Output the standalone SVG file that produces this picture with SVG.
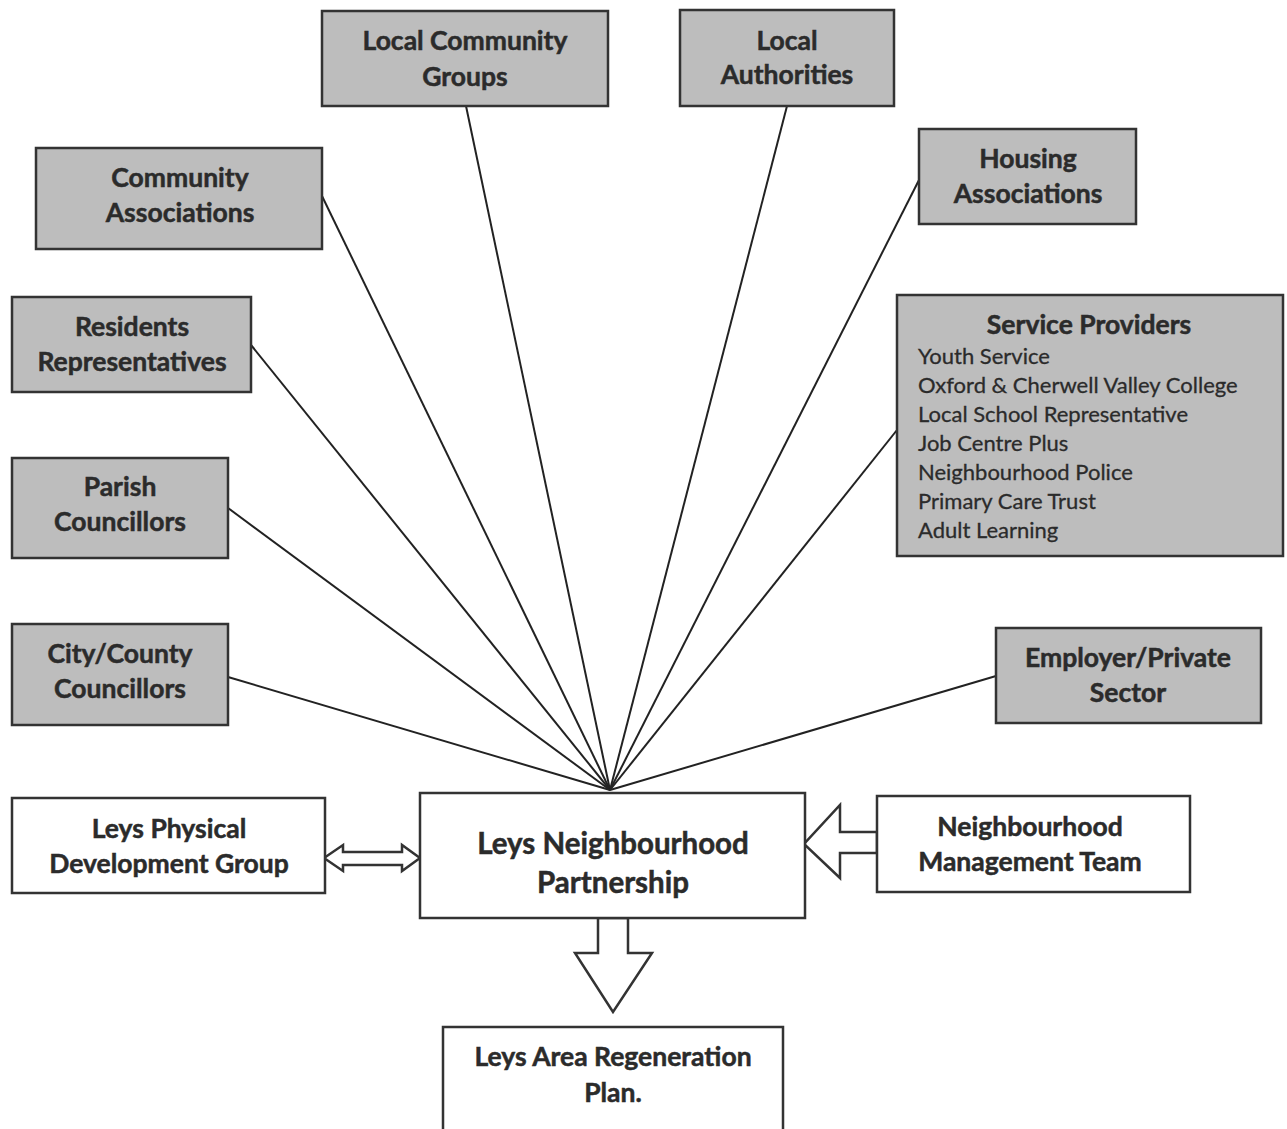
<svg xmlns="http://www.w3.org/2000/svg" width="1287" height="1129" viewBox="0 0 1287 1129">
<style>
.g{fill:#bdbdbd;stroke:#333;stroke-width:2.5}
.w{fill:#fff;stroke:#333;stroke-width:2.5}
.t{font-family:Lato,"Open Sans","Liberation Sans",sans-serif;font-weight:bold;font-size:26.5px;fill:#2b2b2b;text-anchor:middle;stroke:#2b2b2b;stroke-width:0.5}
.big{font-size:29.5px}
.s{font-family:Lato,"Open Sans","Liberation Sans",sans-serif;font-size:22px;fill:#2b2b2b;stroke:#2b2b2b;stroke-width:0.3}
.c{stroke:#222;stroke-width:2;fill:none}
.ba{fill:#fff;stroke:#333;stroke-width:2.5;stroke-linejoin:miter}
</style>
<rect width="1287" height="1129" fill="#fff"/>
<g id="connectors">
<line class="c" x1="466" y1="106" x2="610" y2="790"/>
<line class="c" x1="787" y1="106" x2="610" y2="790"/>
<line class="c" x1="322" y1="196" x2="610" y2="790"/>
<line class="c" x1="919" y1="180" x2="610" y2="790"/>
<line class="c" x1="251" y1="345" x2="610" y2="790"/>
<line class="c" x1="897" y1="430" x2="610" y2="790"/>
<line class="c" x1="228" y1="508" x2="610" y2="790"/>
<line class="c" x1="228" y1="677" x2="610" y2="790"/>
<line class="c" x1="996" y1="676" x2="610" y2="790"/>
<polygon class="ba" points="324,858 343,845 343,852 402,852 402,845 420,858 402,871 402,865 343,865 343,871"/>
<polygon class="ba" points="877,832 840,832 840,805 804,844 840,878 840,853 877,853"/>
<polygon class="ba" points="598,918 598,953 575,953 613,1012 652,953 628,953 628,918"/>
</g>
<g id="local-community-groups"><rect class="g" x="322" y="11" width="286" height="95"/><text class="t" x="465" y="50">Local Community</text><text class="t" x="465" y="86">Groups</text></g>
<g id="local-authorities"><rect class="g" x="680" y="10" width="214" height="96"/><text class="t" x="787" y="50">Local</text><text class="t" x="787" y="84">Authorities</text></g>
<g id="community-associations"><rect class="g" x="36" y="148" width="286" height="101"/><text class="t" x="180" y="187">Community</text><text class="t" x="180" y="222">Associations</text></g>
<g id="housing-associations"><rect class="g" x="919" y="129" width="217" height="95"/><text class="t" x="1028" y="168">Housing</text><text class="t" x="1028" y="203">Associations</text></g>
<g id="residents-representatives"><rect class="g" x="12" y="297" width="239" height="95"/><text class="t" x="132" y="336">Residents</text><text class="t" x="132" y="371">Representatives</text></g>
<g id="service-providers"><rect class="g" x="897" y="295" width="386" height="261"/><text class="t" x="1089" y="334">Service Providers</text>
<text class="s" x="918" y="364">Youth Service</text>
<text class="s" x="918" y="393">Oxford &amp; Cherwell Valley College</text>
<text class="s" x="918" y="422">Local School Representative</text>
<text class="s" x="918" y="451">Job Centre Plus</text>
<text class="s" x="918" y="480">Neighbourhood Police</text>
<text class="s" x="918" y="509">Primary Care Trust</text>
<text class="s" x="918" y="538">Adult Learning</text></g>
<g id="parish-councillors"><rect class="g" x="12" y="458" width="216" height="100"/><text class="t" x="120" y="496">Parish</text><text class="t" x="120" y="531">Councillors</text></g>
<g id="city-county-councillors"><rect class="g" x="12" y="624" width="216" height="101"/><text class="t" x="120" y="663">City/County</text><text class="t" x="120" y="698">Councillors</text></g>
<g id="employer-private-sector"><rect class="g" x="996" y="628" width="265" height="95"/><text class="t" x="1128" y="667">Employer/Private</text><text class="t" x="1128" y="702">Sector</text></g>
<g id="leys-physical-development-group"><rect class="w" x="12" y="798" width="313" height="95"/><text class="t" x="169" y="838">Leys Physical</text><text class="t" x="169" y="873">Development Group</text></g>
<g id="leys-neighbourhood-partnership"><rect class="w" x="420" y="793" width="385" height="125"/><text class="t big" x="613" y="854">Leys Neighbourhood</text><text class="t big" x="613" y="893">Partnership</text></g>
<g id="neighbourhood-management-team"><rect class="w" x="877" y="796" width="313" height="96"/><text class="t" x="1030" y="836">Neighbourhood</text><text class="t" x="1030" y="871">Management Team</text></g>
<g id="leys-area-regeneration-plan"><rect class="w" x="443" y="1027" width="340" height="110" fill="#f4f4f4"/><text class="t" x="613" y="1066">Leys Area Regeneration</text><text class="t" x="613" y="1102">Plan.</text></g>
</svg>
